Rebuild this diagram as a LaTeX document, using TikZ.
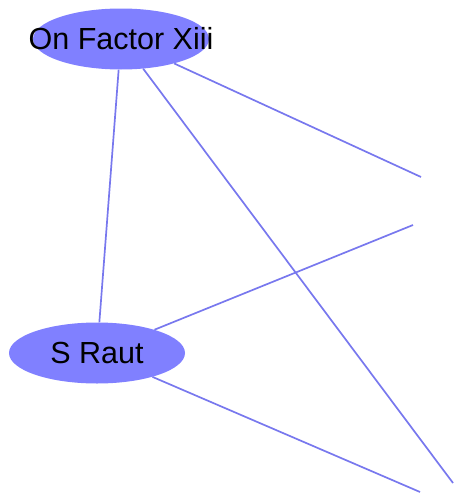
\documentclass[tikz,border=0pt]{standalone}
\usepackage{fontspec}
\setmainfont{Liberation Sans}
\usepackage{tikz}
\usetikzlibrary{shapes.geometric}

\definecolor{nodeblue}{RGB}{128,128,255}
\definecolor{edgeblue}{RGB}{120,120,238}

\tikzset{
  person/.style={ellipse, fill=nodeblue, inner sep=0pt, minimum width=176pt,
    minimum height=61pt, font=\fontsize{30.5}{31}\selectfont},
  link/.style={edgeblue, line width=1.7pt}
}

\begin{document}
\begin{tikzpicture}[x=1pt, y=-1pt]
\useasboundingbox (0,0) rectangle (458,498);
\node[person] (f) at (121, 39) {\raisebox{-2pt}{\makebox[0pt]{On Factor Xiii}}};
\node[person] (s) at (97, 353) {\raisebox{-2pt}{\makebox[0pt]{S Raut}}};
\coordinate (p) at (421, 177);
\coordinate (q) at (413, 225);
\coordinate (r) at (453, 483);
\coordinate (t) at (420, 492);
\draw[link] (f) to (p);
\draw[link] (f) to (s);
\draw[link] (f) to (r);
\draw[link] (s) to (q);
\draw[link] (s) to (t);
\end{tikzpicture}
\end{document}
